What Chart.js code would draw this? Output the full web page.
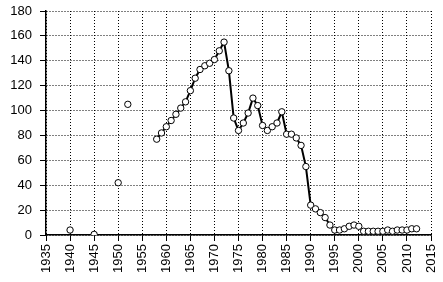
<!DOCTYPE html>
<html>
<head>
<meta charset="utf-8">
<script src="https://cdn.jsdelivr.net/npm/chart.js@4/dist/chart.umd.min.js"></script>
<style>
html,body{margin:0;padding:0;background:#fff;}
#wrap{width:443px;height:282px;position:relative;}
</style>
</head>
<body>
<div id="wrap"><canvas id="c" width="443" height="282"></canvas></div>
<script>
// Isolated early observations (not connected)
const earlyYears = [1940, 1945, 1950, 1952];
const earlyValues = [4, 0.5, 42, 105];

// Yearly series, connected by a line
const years = [1958,1959,1960,1961,1962,1963,1964,1965,1966,1967,1968,1969,1970,1971,1972,1973,1974,1975,1976,1977,1978,1979,1980,1981,1982,1983,1984,1985,1986,1987,1988,1989,1990,1991,1992,1993,1994,1995,1996,1997,1998,1999,2000,2001,2002,2003,2004,2005,2006,2007,2008,2009,2010,2011,2012];
const values = [77,82,87,92,97,102,107,116,126,133,136,138,141,148,155,132,94,84,90,98,110,104,88,84,87,90,99,81,81,78,72,55,24,21,18,14,8,4,4,5,7,8,7,3,3,3,3,3,4,3,4,4,4,5,5];

const xTicks = [1935,1940,1945,1950,1955,1960,1965,1970,1975,1980,1985,1990,1995,2000,2005,2010,2015];
const yTicks = [0,20,40,60,80,100,120,140,160,180];

const toPts = (xs, ys) => xs.map((x, i) => ({x: x, y: ys[i]}));

const font = {family: '"Liberation Sans", Arial, sans-serif', size: 13};

new Chart(document.getElementById('c'), {
  type: 'scatter',
  data: {
    datasets: [
      {
        data: toPts(earlyYears, earlyValues),
        showLine: false,
        pointRadius: 3.2,
        pointBackgroundColor: '#fff',
        pointBorderColor: '#000',
        pointBorderWidth: 1
      },
      {
        data: toPts(years, values),
        showLine: true,
        borderColor: '#000',
        borderWidth: 2,
        pointRadius: 3.2,
        pointBackgroundColor: '#fff',
        pointBorderColor: '#000',
        pointBorderWidth: 1
      }
    ]
  },
  options: {
    responsive: false,
    animation: false,
    layout: {padding: {top: 11, right: 12, left: 0, bottom: 0}},
    plugins: {legend: {display: false}, tooltip: {enabled: false}},
    scales: {
      x: {
        type: 'linear',
        min: xTicks[0],
        max: xTicks[xTicks.length - 1],
        afterBuildTicks: s => { s.ticks = xTicks.map(v => ({value: v})); },
        afterFit: s => { s.height = 47; s.paddingLeft = 0; s.paddingRight = 0; },
        ticks: {
          color: '#000',
          font: font,
          minRotation: 90,
          maxRotation: 90,
          padding: 3,
          callback: v => String(v)
        },
        grid: {color: '#000', lineWidth: 1, tickLength: 6, tickBorderDash: [], tickColor: '#000'},
        border: {display: true, color: '#000', width: 1.5, dash: [1, 2]}
      },
      y: {
        min: yTicks[0],
        max: yTicks[yTicks.length - 1],
        afterBuildTicks: s => { s.ticks = yTicks.map(v => ({value: v})); },
        afterFit: s => { s.width = 46; s.paddingTop = 0; s.paddingBottom = 0; },
        ticks: {
          color: '#000',
          font: font,
          padding: 8,
          callback: v => String(v)
        },
        grid: {color: '#000', lineWidth: 1, tickLength: 6, tickBorderDash: [], tickColor: '#000'},
        border: {display: true, color: '#000', width: 1.5, dash: [1, 2]}
      }
    }
  }
});
</script>
</body>
</html>
